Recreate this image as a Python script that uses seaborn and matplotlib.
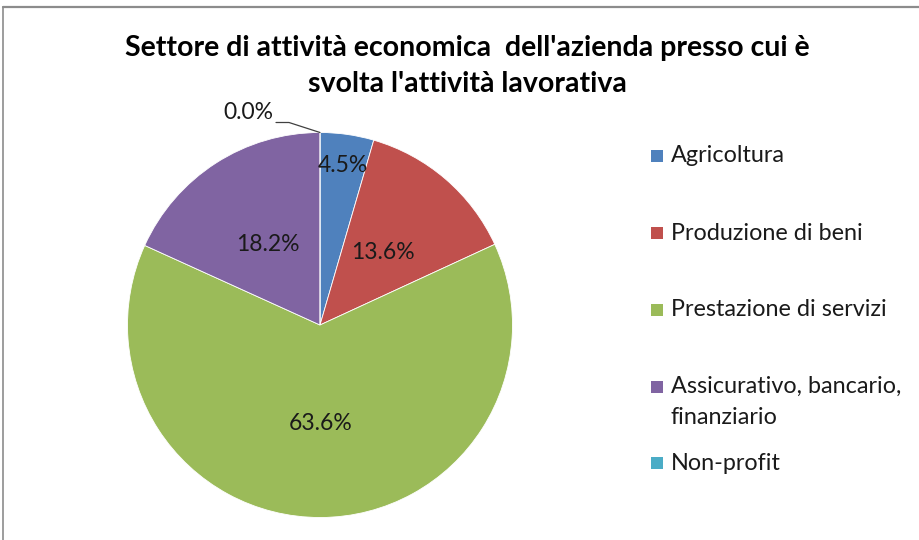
import matplotlib
matplotlib.use("Agg")
import matplotlib.pyplot as plt
from matplotlib.lines import Line2D
from matplotlib.patches import Rectangle
import numpy as np
import seaborn as sns

# Sector shares (%) of the companies where the work activity takes place
categories = ["Agricoltura", "Produzione di beni", "Prestazione di servizi",
              "Assicurativo, bancario,\nfinanziario", "Non-profit"]
shares = [4.5, 13.6, 63.6, 18.2, 0.0]
colors = ["#4F81BD", "#C0504D", "#9BBB59", "#8064A2", "#4BACC6"]
title = "Settore di attività economica  dell'azienda presso cui è\nsvolta l'attività lavorativa"

sns.set_theme(style="white")
plt.rcParams["font.family"] = ["Lato", "DejaVu Sans"]

fig = plt.figure(figsize=(9.2, 5.4), dpi=100)
fig.patch.set_facecolor("white")

# pie axes: centre (320, 325) px, radius ~192 px
R_PX = 192.5
ax = fig.add_axes([(320 - R_PX) / 920, (540 - 325 - R_PX) / 540,
                   2 * R_PX / 920, 2 * R_PX / 540])
palette = sns.color_palette(colors)
wedges, _ = ax.pie(shares, colors=palette, startangle=90, counterclock=False,
                   radius=1.0, wedgeprops=dict(edgecolor="white", linewidth=0.6))
ax.set_xlim(-1, 1)
ax.set_ylim(-1, 1)
ax.set_aspect("equal")
ax.axis("off")

# data labels inside the slices
label_dist = [0.835, 0.5, 0.51, 0.5, None]
for w, val, d in zip(wedges, shares, label_dist):
    mid = np.deg2rad((w.theta1 + w.theta2) / 2)
    if d is not None:
        ax.text(d * np.cos(mid), d * np.sin(mid), f"{val:.1f}%",
                ha="center", va="center", fontsize=16.5, color="#1a1a1a")
    else:
        # zero slice: label outside with a leader line
        ex, ey = np.cos(mid), np.sin(mid)
        kx, ky = ex - 31 / R_PX, ey + 10 / R_PX
        ax.plot([ex, kx, kx - 13 / R_PX], [ey, ky, ky], color="#404040",
                lw=0.9, clip_on=False)
        ax.text(kx - 16 / R_PX, ky + 10 / R_PX, f"{val:.1f}%",
                ha="right", va="center", fontsize=16.5, color="#1a1a1a")

# title
fig.text(467 / 920, 1 - 66 / 540, title, ha="center", va="center",
         fontsize=20.5, fontweight="bold", color="black", linespacing=1.5)

# legend
legend_y = [156, 233, 310, 402, 463]
for lab, col, y in zip(categories, colors, legend_y):
    top = y - 15 if "\n" in lab else y
    fig.add_artist(Rectangle((651 / 920, 1 - (top + 6) / 540), 12 / 920, 12 / 540,
                             transform=fig.transFigure, facecolor=col,
                             edgecolor="none"))
    fig.text(671 / 920, 1 - y / 540, lab, ha="left", va="center",
             fontsize=16.8, color="#1a1a1a", linespacing=1.6)

# chart frame
fig.add_artist(Line2D([3 / 920, 1], [1 - 7 / 540] * 2, transform=fig.transFigure,
                      color="#8c8c8c", lw=1.6))
fig.add_artist(Line2D([3 / 920] * 2, [0, 1 - 7 / 540], transform=fig.transFigure,
                      color="#8c8c8c", lw=1.2))

fig.savefig("out.png", dpi=100, facecolor="white")
